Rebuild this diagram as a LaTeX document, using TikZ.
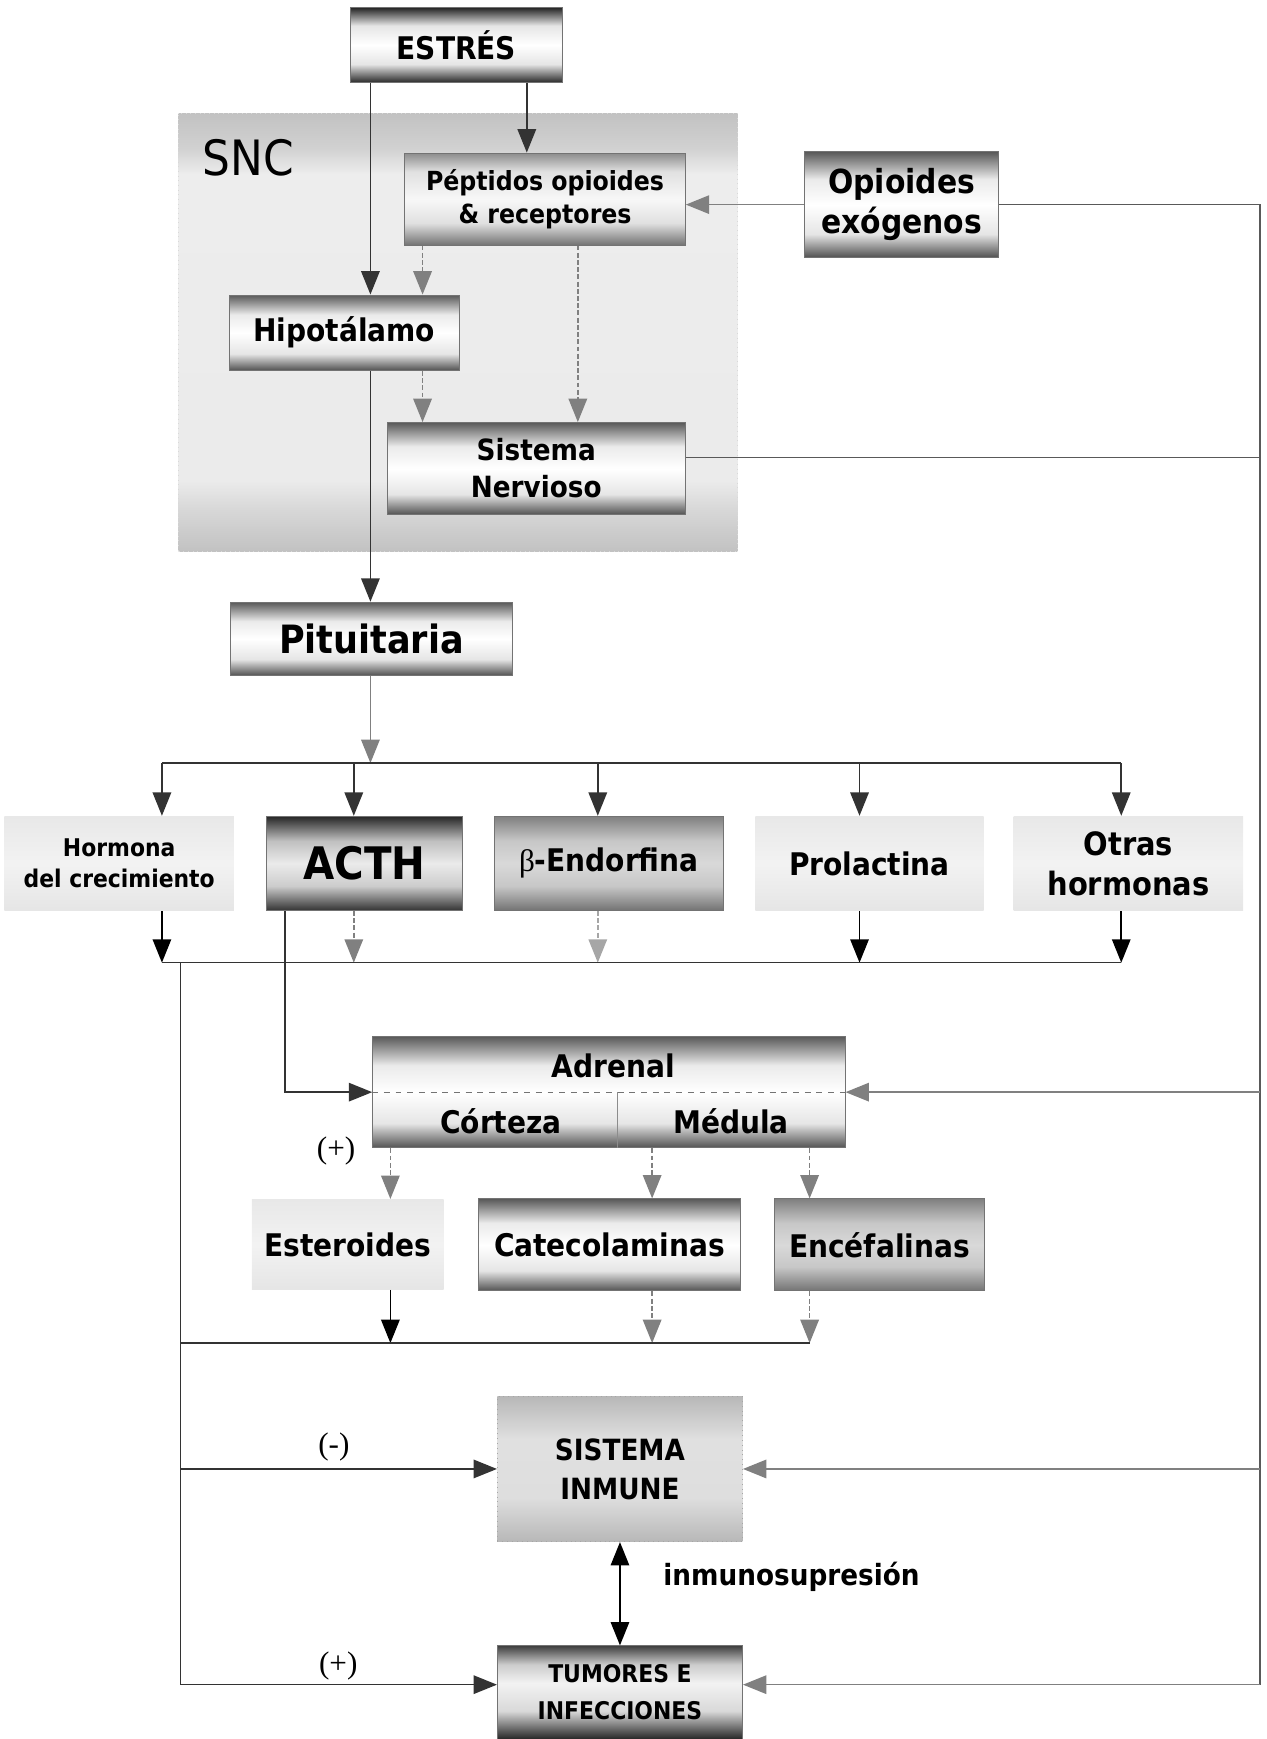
\documentclass[tikz,border=0pt]{standalone}
\usepackage{fontspec}
\setmainfont{DejaVu Sans Condensed}
\newfontfamily\signfont{Liberation Serif}
\usetikzlibrary{arrows.meta}

\pgfdeclareverticalshading{darkshade}{100bp}{color(0bp)=(black!68); color(25bp)=(black!68); color(36bp)=(black!10); color(50bp)=(white); color(62bp)=(black!8); color(75bp)=(black!65); color(100bp)=(black!65)}
\pgfdeclareverticalshading{estresshade}{100bp}{color(0bp)=(black!82); color(25bp)=(black!82); color(37bp)=(black!10); color(50bp)=(white); color(63bp)=(black!10); color(75bp)=(black!85); color(100bp)=(black!85)}
\pgfdeclareverticalshading{acthshade}{100bp}{color(0bp)=(black!80); color(25bp)=(black!80); color(38bp)=(black!20); color(50bp)=(black!8); color(62bp)=(black!25); color(75bp)=(black!85); color(100bp)=(black!85)}
\pgfdeclareverticalshading{pepshade}{100bp}{color(0bp)=(black!55); color(25bp)=(black!55); color(37bp)=(black!12); color(50bp)=(black!3); color(65bp)=(black!12); color(75bp)=(black!45); color(100bp)=(black!45)}
\pgfdeclareverticalshading{medshade}{100bp}{color(0bp)=(black!55); color(25bp)=(black!55); color(38bp)=(black!22); color(50bp)=(black!15); color(62bp)=(black!22); color(75bp)=(black!50); color(100bp)=(black!50)}
\pgfdeclareverticalshading{lightshade}{100bp}{color(0bp)=(black!10); color(25bp)=(black!10); color(50bp)=(black!5); color(75bp)=(black!9); color(100bp)=(black!9)}
\pgfdeclareverticalshading{inmuneshade}{100bp}{color(0bp)=(black!28); color(25bp)=(black!28); color(40bp)=(black!13); color(60bp)=(black!12); color(75bp)=(black!28); color(100bp)=(black!28)}
\pgfdeclareverticalshading{tumorshade}{100bp}{color(0bp)=(black!85); color(25bp)=(black!85); color(40bp)=(black!15); color(55bp)=(black!5); color(65bp)=(black!20); color(75bp)=(black!75); color(100bp)=(black!75)}
\pgfdeclareverticalshading{sncshade}{100bp}{color(0bp)=(black!24); color(25bp)=(black!24); color(30bp)=(black!15); color(33bp)=(black!8); color(68bp)=(black!7); color(71bp)=(black!18); color(75bp)=(black!24); color(100bp)=(black!24)}

\begin{document}
\begin{tikzpicture}[x=0.02cm, y=-0.02cm,
    box/.style={rectangle, draw=black!55, line width=0.5pt, align=center, inner sep=0pt, shade, shading=darkshade, font=\bfseries\fontsize{16}{19}\selectfont},
    medbox/.style={box, shading=medshade},
    lightbox/.style={box, draw=none, shading=lightshade},
    region/.style={rectangle, draw=black!15, dotted, shade, shading=sncshade},
    conn/.style={draw=black!80, line width=0.8pt},
    arrow/.style={conn, -{Triangle[length=12pt, width=9.5pt]}},
    grayarrow/.style={arrow, draw=black!50},
    dasharrow/.style={grayarrow, dash pattern=on 2.5pt off 1.2pt},
    sign/.style={font=\signfont\fontsize{16}{18}\selectfont}
]
    \useasboundingbox (0,0) rectangle (1142,1568);

    % SNC
    \node[region, minimum width=10.08cm, minimum height=7.9cm] (snc) at (413,299.5) {};
    \node[font=\fontsize{25}{28}\selectfont] (snctxt) at (224,142) {SNC};

    % Top
    \node[box, shading=estresshade, minimum width=3.82cm, minimum height=1.34cm] (estres) at (411.5,40.5) {ESTRÉS};
    \node[box, shading=pepshade, font=\bfseries\fontsize{13.5}{17}\selectfont, minimum width=5.06cm, minimum height=1.66cm] (peptidos) at (491.5,179.5) {Péptidos opioides\\\& receptores};
    \node[box, font=\bfseries\fontsize{17}{20.5}\selectfont, minimum width=3.51cm, minimum height=1.9cm] (opioides) at (813,184.5) {Opioides\\exógenos};
    \node[box, minimum width=4.14cm, minimum height=1.36cm] (hipotalamo) at (310.5,300) {Hipotálamo};
    \node[box, font=\bfseries\fontsize{15}{19}\selectfont, minimum width=5.38cm, minimum height=1.66cm] (sn) at (483.5,422.5) {Sistema\\Nervioso};
    \node[box, font=\bfseries\fontsize{20}{22}\selectfont, minimum width=5.08cm, minimum height=1.32cm] (pituitaria) at (335,576) {Pituitaria};

    % Hormonas
    \node[lightbox, font=\bfseries\fontsize{12.5}{16}\selectfont, minimum width=4.14cm, minimum height=1.7cm] (hormona) at (107.5,778.5) {Hormona\\del crecimiento};
    \node[box, shading=acthshade, font=\bfseries\fontsize{23}{26}\selectfont, minimum width=3.54cm, minimum height=1.7cm] (acth) at (328.5,778.5) {ACTH};
    \node[medbox, minimum width=4.12cm, minimum height=1.7cm] (endorfina) at (549,778.5) {{\signfont\mdseries β}-Endorfina};
    \node[lightbox, minimum width=4.12cm, minimum height=1.7cm] (prolactina) at (784,778.5) {Prolactina};
    \node[lightbox, font=\bfseries\fontsize{16.5}{20.5}\selectfont, minimum width=4.14cm, minimum height=1.7cm] (otras) at (1017.5,778.5) {Otras\\hormonas};

    % Adrenal
    \node[box, minimum width=8.52cm, minimum height=2.01cm] (adrenal) at (549,984.75) {};
    \node[font=\bfseries\fontsize{16}{19}\selectfont] (adrtxt) at (553,961) {Adrenal};
    \node[font=\bfseries\fontsize{16}{19}\selectfont] (corteza) at (451.6,1011) {Córteza};
    \node[font=\bfseries\fontsize{16}{19}\selectfont] (medula) at (659,1011) {Médula};
    \draw[black!55, dashed] (adrenal.west) -- (adrenal.east);
    \draw[black!45, line width=0.4pt] (557,985) -- (557,1035);
    \node[lightbox, minimum width=3.46cm, minimum height=1.62cm] (esteroides) at (313.5,1122) {Esteroides};
    \node[box, minimum width=4.74cm, minimum height=1.66cm] (catecol) at (549.5,1122.5) {Catecolaminas};
    \node[medbox, minimum width=3.8cm, minimum height=1.66cm] (encefalinas) at (793,1122.5) {Encéfalinas};

    % Sistema inmune
    \node[box, shading=inmuneshade, draw=black!35, dotted, font=\bfseries\fontsize{15}{20}\selectfont, minimum width=4.42cm, minimum height=2.62cm] (inmune) at (559,1324.5) {SISTEMA\\INMUNE};
    \node[box, shading=tumorshade, font=\bfseries\fontsize{12.5}{19}\selectfont, minimum width=4.42cm, minimum height=1.68cm] (tumores) at (559,1526) {TUMORES E\\INFECCIONES};
    \node[font=\bfseries\fontsize{15}{18}\selectfont, anchor=west] (supresion) at (592,1422) {inmunosupresión};
    \node[sign] (plusA) at (303,1038) {(+)};
    \node[sign] (minus) at (301,1305) {(-)};
    \node[sign] (plusB) at (305,1502) {(+)};

    % Lanes
    \coordinate (laneA) at (334,0);
    \coordinate (laneB) at (381,0);
    \coordinate (laneC) at (475,0);
    \coordinate (laneD) at (521,0);
    \coordinate (laneT) at (257,0);
    \coordinate (laneL) at (163,0);
    \coordinate (laneR) at (1136,0);
    \coordinate (h1) at (146,688);
    \coordinate (h2) at (319,688);
    \coordinate (h3) at (539,688);
    \coordinate (h4) at (775,688);
    \coordinate (h5) at (1011,688);
    \coordinate (g1) at (146,868);
    \coordinate (g2) at (319,868);
    \coordinate (g3) at (539,868);
    \coordinate (g4) at (775,868);
    \coordinate (g5) at (1011,868);
    \coordinate (e1) at (352,1211);
    \coordinate (e2) at (588,1211);
    \coordinate (e3) at (730,1211);
    \coordinate (lbottom) at (163,1519);
    \coordinate (rbottom) at (1136,1519);

    % Arrows
    \draw[arrow] (estres.south -| laneA) -- (hipotalamo.north -| laneA);
    \draw[arrow] (estres.south -| laneC) -- (peptidos.north -| laneC);
    \draw[dasharrow] (peptidos.south -| laneB) -- (hipotalamo.north -| laneB);
    \draw[dasharrow] (peptidos.south -| laneD) -- (sn.north -| laneD);
    \draw[dasharrow] (hipotalamo.south -| laneB) -- (sn.north -| laneB);
    \draw[arrow] (hipotalamo.south -| laneA) -- (pituitaria.north -| laneA);
    \draw[grayarrow] (opioides.west) -- (opioides.west -| peptidos.east);
    \draw[conn, draw=black!65] (opioides.east) -| (rbottom);
    \draw[conn, draw=black!65] ([yshift=0.2cm]sn.east) -- ([yshift=0.2cm]sn.east -| laneR);
    \draw[grayarrow] (pituitaria.south -| laneA) -- (h1 -| laneA);

    \draw[conn] (h1) -- (h5);
    \draw[arrow] (h1) -- (h1 |- hormona.north);
    \draw[arrow] (h2) -- (h2 |- acth.north);
    \draw[arrow] (h3) -- (h3 |- endorfina.north);
    \draw[arrow] (h4) -- (h4 |- prolactina.north);
    \draw[arrow] (h5) -- (h5 |- otras.north);

    \draw[arrow, draw=black] (hormona.south -| g1) -- (g1);
    \draw[dasharrow] (acth.south -| g2) -- (g2);
    \draw[dasharrow, draw=black!35] (endorfina.south -| g3) -- (g3);
    \draw[arrow, draw=black] (prolactina.south -| g4) -- (g4);
    \draw[arrow, draw=black] (otras.south -| g5) -- (g5);
    \draw[conn] (g1) -- (g5);

    \draw[conn, line width=0.6pt] (g1 -| laneL) -- (lbottom);
    \draw[arrow] (acth.south -| laneT) |- (adrenal.west);
    \draw[grayarrow] (adrenal.east -| laneR) -- (adrenal.east);

    \draw[dasharrow] (adrenal.south -| e1) -- (esteroides.north -| e1);
    \draw[dasharrow] (adrenal.south -| e2) -- (catecol.north -| e2);
    \draw[dasharrow] (adrenal.south -| e3) -- (encefalinas.north -| e3);
    \draw[arrow, draw=black] (esteroides.south -| e1) -- (e1);
    \draw[dasharrow] (catecol.south -| e2) -- (e2);
    \draw[dasharrow] (encefalinas.south -| e3) -- (e3);
    \draw[conn] (e1 -| laneL) -- (e3);

    \draw[arrow] (inmune.west -| laneL) -- (inmune.west);
    \draw[grayarrow] (inmune.east -| laneR) -- (inmune.east);
    \draw[arrow] (lbottom) -- (lbottom -| tumores.west);
    \draw[grayarrow] (rbottom) -- (rbottom -| tumores.east);
    \draw[arrow, draw=black, {Triangle[length=12pt, width=9.5pt]}-{Triangle[length=12pt, width=9.5pt]}] (inmune.south) -- (tumores.north);
\end{tikzpicture}
\end{document}
